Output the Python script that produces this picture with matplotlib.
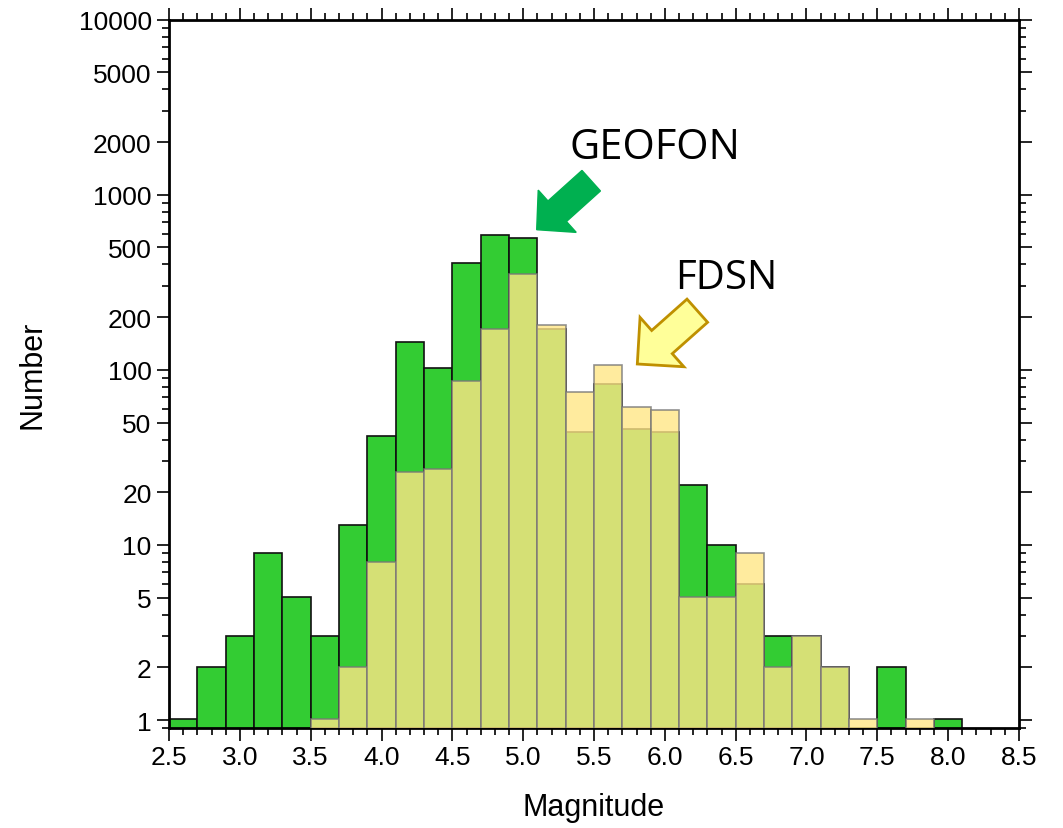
import numpy as np
import matplotlib
matplotlib.use("Agg")
import matplotlib.pyplot as plt
from matplotlib.patches import FancyArrow
from matplotlib.ticker import LogLocator, FixedLocator, NullFormatter, MultipleLocator

# bin left edges (width 0.2) and counts per bin
bin_left = [2.5, 2.7, 2.9, 3.1, 3.3, 3.5, 3.7, 3.9, 4.1, 4.3, 4.5, 4.7, 4.9,
            5.1, 5.3, 5.5, 5.7, 5.9, 6.1, 6.3, 6.5, 6.7, 6.9, 7.1, 7.3, 7.5,
            7.7, 7.9]
geofon = [1, 2, 3, 9, 5, 3, 13, 42, 145, 103, 410, 590, 570,
          171, 44, 83, 46, 44, 22, 10, 6, 3, 3, 2, 0, 2, 0, 1]
fdsn = [0, 0, 0, 0, 0, 1, 2, 8, 26, 27, 86, 172, 354,
        180, 75, 106, 61, 59, 5, 5, 9, 2, 3, 2, 1, 0, 1, 0]
width = 0.2

y_ticks = [1, 2, 5, 10, 20, 50, 100, 200, 500, 1000, 2000, 5000, 10000]
x_ticks = np.arange(2.5, 8.51, 0.5)

plt.rcParams['font.family'] = ['Liberation Sans', 'DejaVu Sans']

fig = plt.figure(figsize=(10.63, 8.29), dpi=100)
ax = fig.add_axes([0.159, 0.1206, 0.7996, 0.8544])

g = np.array(geofon, dtype=float)
f = np.array(fdsn, dtype=float)
ax.bar(bin_left, np.where(g > 0, g, np.nan), width=width, align='edge', bottom=0.01,
       color='#33CC33', edgecolor='#111111', linewidth=1.2, zorder=2)
ax.bar(bin_left, np.where(f > 0, f, np.nan), width=width, align='edge', bottom=0.01,
       color='#FFE686', edgecolor='#777777', linewidth=1.2, alpha=0.8, zorder=3)

ax.set_yscale('log')
ax.set_ylim(0.9, 10000)
ax.set_xlim(2.5, 8.5)

ax.yaxis.set_major_locator(FixedLocator(y_ticks))
ax.yaxis.set_major_formatter(matplotlib.ticker.FixedFormatter([str(v) for v in y_ticks]))
ax.yaxis.set_minor_locator(LogLocator(base=10, subs=(3, 4, 6, 7, 8, 9)))
ax.yaxis.set_minor_formatter(NullFormatter())
ax.set_xticks(x_ticks)
ax.set_xticklabels([f"{v:.1f}" for v in x_ticks])
ax.xaxis.set_minor_locator(MultipleLocator(0.1))

ax.tick_params(which='both', direction='out', top=True, right=True,
               width=1.2, labelsize=19, colors='black')
ax.tick_params(which='major', length=9)
ax.tick_params(which='minor', length=5)
for s in ax.spines.values():
    s.set_linewidth(2)

ax.set_xlabel('Magnitude', fontsize=22, labelpad=16)
ax.set_ylabel('Number', fontsize=22, labelpad=22)

# annotation arrows, in inches from the bottom-left of the figure
H = 8.29
fig.patches.append(FancyArrow(5.912, H - 1.817, -0.545, -0.49, width=0.276,
                              head_width=0.568, head_length=0.276,
                              length_includes_head=True, color='#00B050',
                              transform=fig.dpi_scale_trans, figure=fig))
fig.patches.append(FancyArrow(6.973, H - 3.117, -0.60, -0.533, width=0.31,
                              head_width=0.66, head_length=0.33,
                              length_includes_head=True, facecolor='#FFFF99',
                              edgecolor='#BF9000', linewidth=2,
                              transform=fig.dpi_scale_trans, figure=fig))

fig.text(6.55, H - 1.48, 'GEOFON', transform=fig.dpi_scale_trans, fontsize=30,
         family=['Open Sans', 'DejaVu Sans'], ha='center', va='center')
fig.text(7.26, H - 2.79, 'FDSN', transform=fig.dpi_scale_trans, fontsize=29,
         family=['Open Sans', 'DejaVu Sans'], ha='center', va='center')

fig.savefig('out.png', dpi=100)
